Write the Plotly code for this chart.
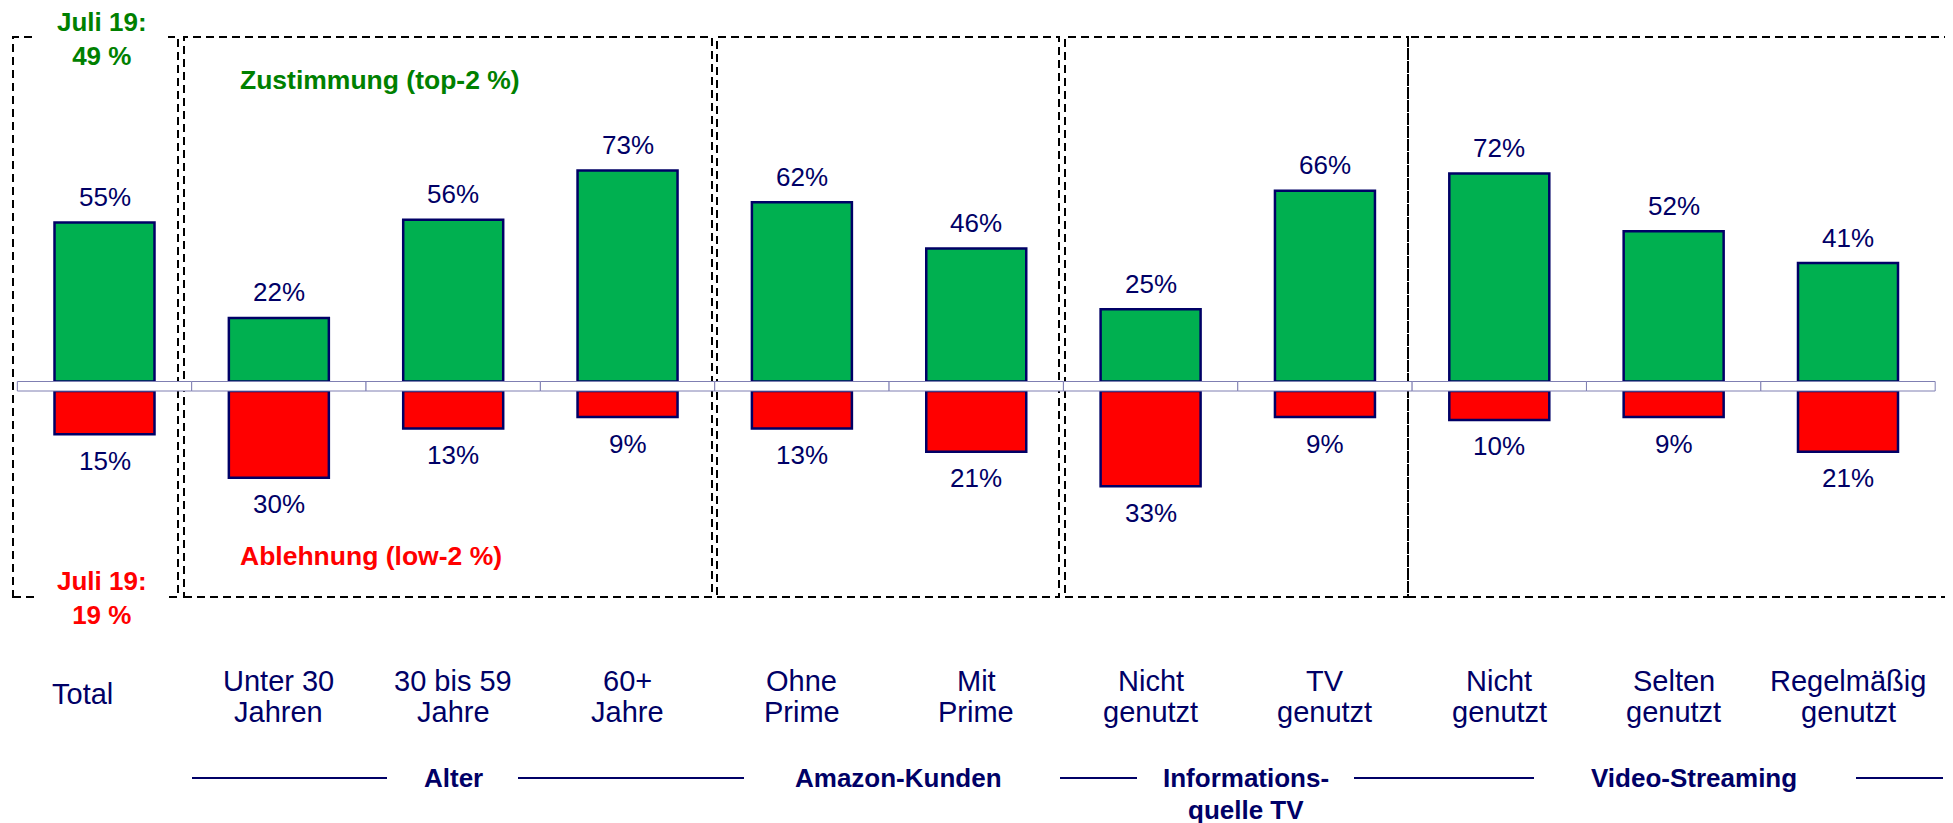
import plotly.graph_objects as go

# ---------------- data ----------------
categories = ["Total", "Unter 30<br>Jahren", "30 bis 59<br>Jahre", "60+<br>Jahre",
              "Ohne<br>Prime", "Mit<br>Prime", "Nicht<br>genutzt", "TV<br>genutzt",
              "Nicht<br>genutzt", "Selten<br>genutzt", "Regelmäßig<br>genutzt"]
top2 = [55, 22, 56, 73, 62, 46, 25, 66, 72, 52, 41]      # Zustimmung (top-2 %)
low2 = [15, 30, 13, 9, 13, 21, 33, 9, 10, 9, 21]         # Ablehnung (low-2 %)
groups = ["Alter", "Amazon-Kunden", "Informations-<br>quelle TV", "Video-Streaming"]
group_members = [[1, 2, 3], [4, 5], [6, 7], [8, 9, 10]]
prev_label = "Juli 19:"
prev_top2 = 49
prev_low2 = 19
legend_top = "Zustimmung (top-2 %)"
legend_low = "Ablehnung (low-2 %)"

# ---------------- style / layout ----------------
W, H = 1953, 823
OFF = 8            # page margin of the html body
FONT = "Liberation Sans, Arial, sans-serif"
NAVY = "#000066"
GREEN_BAR = "#00B050"
RED_BAR = "#FF0000"
GREEN_TXT = "#008000"
RED_TXT = "#FF0000"
BAND = "#7F7FB2"
PX_PER_PCT = 2.89
ZERO_TOP = 381.5   # pixel row of 0 for green bars
ZERO_BOT = 391.0   # pixel row of 0 for red bars
BOX_TOP, BOX_BOT = 37, 597
CAT_SPACING = 174.35
CAT0 = 104.5


def fx(p):
    return (p - OFF) / W


def fy(p):
    return 1 - (p - OFF) / H


xs = list(range(len(categories)))
x_lo = -(CAT0 - OFF) / CAT_SPACING
x_hi = (W - (CAT0 - OFF)) / CAT_SPACING

fig = go.Figure()
fig.add_trace(go.Bar(x=xs, y=top2, yaxis="y", width=100 / CAT_SPACING,
                     marker=dict(color=GREEN_BAR, line=dict(color=NAVY, width=2.5)),
                     hoverinfo="skip"))
fig.add_trace(go.Bar(x=xs, y=low2, yaxis="y2", width=100 / CAT_SPACING,
                     marker=dict(color=RED_BAR, line=dict(color=NAVY, width=2.5)),
                     hoverinfo="skip"))

annotations = []
# value labels
for i, v in enumerate(top2):
    annotations.append(dict(x=i, y=v, xref="x", yref="y", text=f"{v}%", showarrow=False,
                            xanchor="center", yanchor="middle", yshift=25.5,
                            font=dict(family=FONT, size=26, color=NAVY)))
for i, v in enumerate(low2):
    annotations.append(dict(x=i, y=v, xref="x", yref="y2", text=f"{v}%", showarrow=False,
                            xanchor="center", yanchor="middle", yshift=-26.5,
                            font=dict(family=FONT, size=26, color=NAVY)))

# category labels (each line separately for tight line spacing)
for i, c in enumerate(categories):
    lines = c.split("<br>")
    ys = [694] if len(lines) == 1 else [681, 712]
    xshift = -22 if i == 0 else 0
    for ln, yy in zip(lines, ys):
        annotations.append(dict(x=i, y=fy(yy), xref="x", yref="paper", text=ln,
                                showarrow=False, xanchor="center", yanchor="middle",
                                xshift=xshift,
                                font=dict(family=FONT, size=29, color=NAVY)))

# group labels
group_shift = [0, 9, 8, 20]
for g, members, sh in zip(groups, group_members, group_shift):
    cx = sum(members) / len(members)
    for k, ln in enumerate(g.split("<br>")):
        annotations.append(dict(x=cx, y=fy(778 + 32 * k), xref="x", yref="paper",
                                text=f"<b>{ln}</b>", showarrow=False, xanchor="center",
                                yanchor="middle", xshift=sh,
                                font=dict(family=FONT, size=26, color=NAVY)))

# Juli 19 comparisons
annotations.append(dict(x=fx(102), y=fy(39), xref="paper", yref="paper",
                        text=f"<b>{prev_label}<br>{prev_top2} %</b>", showarrow=False,
                        xanchor="center", yanchor="middle", borderpad=0,
                        font=dict(family=FONT, size=26, color=GREEN_TXT)))
annotations.append(dict(x=fx(102), y=fy(597.5), xref="paper", yref="paper",
                        text=f"<b>{prev_label}<br>{prev_low2} %</b>", showarrow=False,
                        xanchor="center", yanchor="middle", borderpad=0,
                        font=dict(family=FONT, size=26, color=RED_TXT)))

# legend-like texts
annotations.append(dict(x=fx(238), y=fy(80), xref="paper", yref="paper",
                        text=f"<b>{legend_top}</b>", showarrow=False, xanchor="left",
                        yanchor="middle", font=dict(family=FONT, size=26.5, color=GREEN_TXT)))
annotations.append(dict(x=fx(238), y=fy(556), xref="paper", yref="paper",
                        text=f"<b>{legend_low}</b>", showarrow=False, xanchor="left",
                        yanchor="middle", font=dict(family=FONT, size=26.5, color=RED_TXT)))

shapes = []
# dashed group boxes
boxes = [(13, 178), (184, 712), (717, 1059), (1065, 1408), (1408, 1946)]
for x0, x1 in boxes:
    shapes.append(dict(type="rect", xref="paper", yref="paper", x0=fx(x0), x1=fx(x1),
                       y0=fy(BOX_BOT), y1=fy(BOX_TOP), layer="below",
                       line=dict(color="black", width=2, dash="8px,5px")))

# white text boxes behind the "Juli 19" comparisons (interrupt the dashed frame)
for yc in (BOX_TOP, BOX_BOT):
    shapes.append(dict(type="rect", xref="paper", yref="paper", x0=fx(37), x1=fx(168),
                       y0=fy(yc + 8), y1=fy(yc - 8), layer="below",
                       fillcolor="white", line=dict(width=0)))

# baseline band segments
for i in xs:
    shapes.append(dict(type="rect", xref="x", yref="paper", x0=i - 0.5, x1=i + 0.5,
                       y0=fy(ZERO_BOT), y1=fy(ZERO_TOP), fillcolor="white",
                       line=dict(color=BAND, width=1)))

# group rule lines
segments = [(192, 387), (518, 744), (1060, 1137), (1354, 1534), (1856, 1943)]
for a, b in segments:
    shapes.append(dict(type="line", xref="paper", yref="paper", x0=fx(a), x1=fx(b),
                       y0=fy(778), y1=fy(778), line=dict(color=NAVY, width=2)))

fig.update_layout(
    width=W, height=H, margin=dict(l=0, r=0, t=0, b=0),
    paper_bgcolor="white", plot_bgcolor="rgba(0,0,0,0)",
    showlegend=False, barmode="overlay",
    xaxis=dict(range=[x_lo, x_hi], domain=[0, 1], visible=False, anchor="y"),
    yaxis=dict(range=[0, (ZERO_TOP - BOX_TOP) / PX_PER_PCT],
               domain=[fy(ZERO_TOP), fy(BOX_TOP)], visible=False, anchor="x"),
    yaxis2=dict(range=[(BOX_BOT - ZERO_BOT) / PX_PER_PCT, 0],
                domain=[fy(BOX_BOT), fy(ZERO_BOT)], visible=False, anchor="x"),
    annotations=annotations, shapes=shapes,
)

fig.write_html("out.html")
